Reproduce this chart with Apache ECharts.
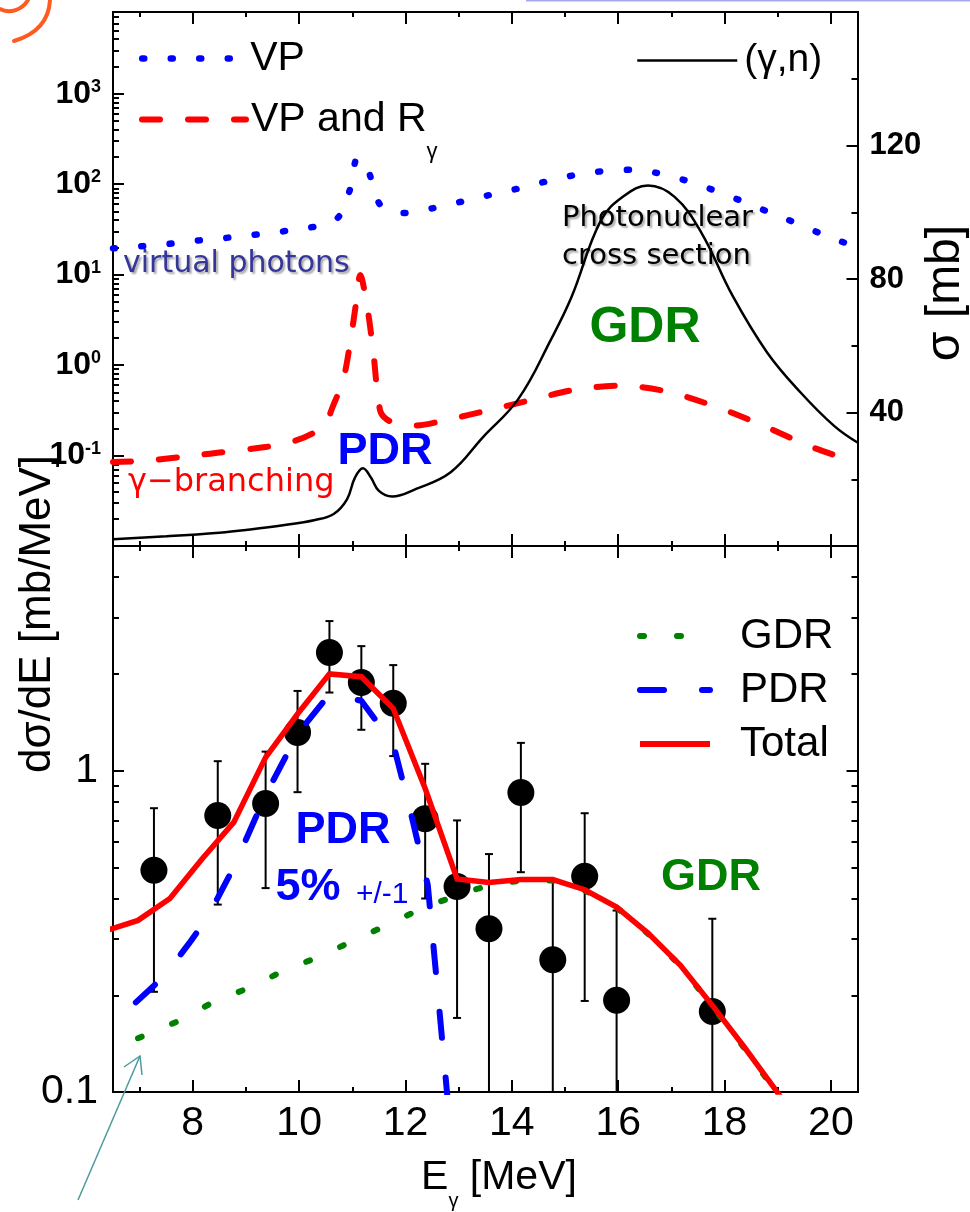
<!DOCTYPE html>
<html><head><meta charset="utf-8">
<script src="https://cdn.jsdelivr.net/npm/echarts@6/dist/echarts.min.js"></script>
<style>html,body{margin:0;padding:0;background:#fff}#c{width:970px;height:1212px}</style>
</head><body><div id="c"></div>
<script>
// ---------------- data ----------------
// shared energy axis (MeV)
const X_MIN = 6.5, X_MAX = 20.5;
const X_MAJOR = [8, 10, 12, 14, 16, 18, 20];
const X_MINOR = [7, 9, 11, 13, 15, 17, 19];

// top panel: virtual photon spectrum (VP)
const E_VP = [6.5,7.0,7.5,8.0,8.5,9.0,9.5,10.0,10.5,10.75,10.95,11.1,11.3,11.5,11.75,12.0,12.5,13.0,13.5,14.0,14.5,15.0,15.5,16.0,16.3,16.7,17.2,17.7,18.3,18.8,19.4,19.9,20.5];
const VP   = [19.5,20.5,21.7,23.5,25,27,29,32,36,44,85,195,140,62,49,48,54,63,74,86,102,120,135,143,144,134,113,90,66,50,36,27,20];

// top panel: VP and R_gamma
const E_VR = [6.5,7.15,8.15,8.5,9.4,9.9,10.27,10.5,10.64,10.83,10.96,11.06,11.15,11.28,11.39,11.52,11.65,11.9,12.2,12.8,13.5,14.4,15.2,16.05,16.9,17.9,18.75,19.6,20.5];
const VR   = [0.085,0.088,0.102,0.108,0.125,0.144,0.178,0.23,0.356,0.69,1.77,4.4,9.9,4.4,1.48,0.32,0.25,0.22,0.215,0.25,0.31,0.416,0.536,0.593,0.513,0.336,0.211,0.127,0.083];

// top panel: (gamma,n) photonuclear cross section, mb (right axis)
const E_GN = [6.5,7.5,8.5,9.0,9.7,10.3,10.65,10.9,11.05,11.2,11.35,11.5,11.75,12.2,12.85,13.45,14.12,14.74,15.12,15.68,16.12,16.56,17.06,17.56,18.15,18.8,19.43,20.06,20.5];
const GN   = [2.0,2.9,4.0,4.8,6.2,7.8,9.6,14,20.5,23.3,20.5,16.5,14.8,17.1,22.1,32.5,44,62,74.5,97.7,105,108,104.6,94,75,58,46,36,31];

// bottom panel: measured points with error bars (mb/MeV)
const E_D  = [7.27,8.47,9.37,9.97,10.57,11.17,11.77,12.37,12.97,13.57,14.17,14.77,15.37,15.97,17.77];
const D    = [0.49,0.725,0.79,1.315,2.33,1.88,1.62,0.708,0.436,0.322,0.855,0.258,0.469,0.193,0.178];
const D_LO = [0.205,0.383,0.431,0.857,1.75,1.34,1.11,0.40,0.17,0.05,0.483,0.05,0.192,0.05,0.05];
const D_HI = [0.764,1.07,1.146,1.77,2.92,2.44,2.13,1.05,0.70,0.55,1.22,0.46,0.737,0.367,0.346];

// bottom panel: GDR component
const E_G = [6.97,7.72,8.4,9.06,9.72,10.39,11.04,11.71,12.36,13.06,13.57,14.17,14.77,15.37,15.97,16.57,17.17,17.77,18.37,18.97,19.57];
const GDR = [0.147,0.166,0.191,0.211,0.239,0.264,0.297,0.334,0.376,0.414,0.44,0.455,0.455,0.424,0.375,0.31,0.247,0.185,0.137,0.1,0.072];

// bottom panel: PDR component
const E_P = [6.93,7.46,7.93,8.28,8.77,9.37,9.97,10.57,11.17,11.77,12.1,12.42,12.6,12.78,12.9];
const PDR = [0.19,0.229,0.29,0.35,0.50,0.84,1.30,1.73,1.65,1.21,0.74,0.44,0.21,0.1,0.065];

// bottom panel: total
const E_T = [6.37,6.97,7.57,8.17,8.77,9.37,9.97,10.57,11.17,11.77,12.37,12.97,13.57,14.17,14.77,15.37,15.97,16.57,17.17,17.77,18.37,18.97,19.57];
const TOT = [0.318,0.342,0.40,0.53,0.69,1.10,1.50,2.0,1.96,1.56,0.88,0.46,0.449,0.458,0.458,0.426,0.376,0.311,0.248,0.186,0.138,0.101,0.073];

// axis tick values
const TOP_LOG_MIN = 0.01, TOP_LOG_MAX = 8000;
const TOP_LOG_MAJOR = [0.01, 0.1, 1, 10, 100, 1000];
const TOP_LOG_LABELS = [0.1, 1, 10, 100, 1000];
const SIG_MAJOR = [0, 40, 80, 120, 160];
const SIG_MINOR = [20, 60, 100, 140];
const SIG_LABELS = [40, 80, 120];
const BOT_LOG_MIN = 0.1, BOT_LOG_MAX = 5;
const BOT_LOG_MAJOR = [0.1, 1];

// ---------------- helpers ----------------
function logMinor(lo, hi) {
  const out = [];
  for (let k = -3; k <= 4; k++) for (let m = 2; m <= 9; m++) {
    const v = m * Math.pow(10, k);
    if (v > lo * 1.0001 && v < hi * 0.9999) out.push(v);
  }
  return out;
}
const zip = (a, b) => a.map((x, i) => [x, b[i]]);
const FONT = '"Liberation Sans", Arial, sans-serif';
const DJ = '"DejaVu Sans", sans-serif';
const axLine = () => ({ show: true, onZero: false, lineStyle: { color: '#000', width: 2 } });
const tick = (vals, len) => ({ show: true, inside: true, length: len, customValues: vals, lineStyle: { color: '#000', width: 2 } });

function xa(grid, pos, vals, len, label) {
  return { type: 'value', gridIndex: grid, position: pos, min: X_MIN, max: X_MAX,
    axisLine: axLine(), axisTick: tick(vals, len), splitLine: { show: false },
    axisLabel: label || { show: false } };
}
function ya(grid, pos, type, min, max, vals, len, label) {
  return { type: type, gridIndex: grid, position: pos, min: min, max: max,
    axisLine: axLine(), axisTick: tick(vals, len), splitLine: { show: false }, minorTick: { show: false },
    axisLabel: label || { show: false } };
}

const xAxis = [
  xa(0, 'bottom', X_MAJOR, 12), xa(0, 'bottom', X_MINOR, 5),
  xa(0, 'top', X_MAJOR, 12), xa(0, 'top', X_MINOR, 5),
  xa(1, 'bottom', X_MAJOR, 12, { show: true, customValues: X_MAJOR, fontSize: 41, fontFamily: FONT, color: '#000', margin: 11 }),
  xa(1, 'bottom', X_MINOR, 5),
  xa(1, 'top', X_MAJOR, 12), xa(1, 'top', X_MINOR, 5)
];

const yAxis = [
  ya(0, 'left', 'log', TOP_LOG_MIN, TOP_LOG_MAX, TOP_LOG_MAJOR, 11, {
    show: true, customValues: TOP_LOG_LABELS, margin: 12, color: '#000',
    formatter: v => '{b|10}{s|' + Math.round(Math.log10(v)) + '}',
    rich: { b: { fontSize: 32, fontWeight: 'bold', fontFamily: FONT, color: '#000' },
            s: { fontSize: 18, fontWeight: 'bold', fontFamily: FONT, color: '#000', verticalAlign: 'top' } } }),
  ya(0, 'left', 'log', TOP_LOG_MIN, TOP_LOG_MAX, logMinor(TOP_LOG_MIN, TOP_LOG_MAX), 6),
  ya(0, 'right', 'value', 0, 160, SIG_MAJOR, 11, {
    show: true, customValues: SIG_LABELS, margin: 12, fontSize: 31, fontWeight: 'bold', fontFamily: FONT, color: '#000' }),
  ya(0, 'right', 'value', 0, 160, SIG_MINOR, 6),
  ya(1, 'left', 'log', BOT_LOG_MIN, BOT_LOG_MAX, BOT_LOG_MAJOR, 11, {
    show: true, customValues: BOT_LOG_MAJOR, margin: 15, fontSize: 41, fontFamily: FONT, color: '#000',
    formatter: v => (v >= 1 ? '1' : '0.1') }),
  ya(1, 'left', 'log', BOT_LOG_MIN, BOT_LOG_MAX, logMinor(BOT_LOG_MIN, BOT_LOG_MAX), 6),
  ya(1, 'right', 'log', BOT_LOG_MIN, BOT_LOG_MAX, BOT_LOG_MAJOR, 11),
  ya(1, 'right', 'log', BOT_LOG_MIN, BOT_LOG_MAX, logMinor(BOT_LOG_MIN, BOT_LOG_MAX), 6)
];

const lineBase = { type: 'line', showSymbol: false, symbol: 'none', clip: true, animation: false, silent: true };

const series = [
  Object.assign({}, lineBase, { name: 'VP', xAxisIndex: 0, yAxisIndex: 0, data: zip(E_VP, VP), smooth: 0.3,
    lineStyle: { color: '#0000ff', width: 6.5, type: [2, 26.5], cap: 'round' }, itemStyle: { color: '#0000ff' } }),
  Object.assign({}, lineBase, { name: 'VP and Rγ', xAxisIndex: 0, yAxisIndex: 0, data: zip(E_VR, VR), smooth: 0.3,
    lineStyle: { color: '#ff0000', width: 6, type: [18, 28], cap: 'round' }, itemStyle: { color: '#ff0000' } }),
  Object.assign({}, lineBase, { name: '(γ,n)', xAxisIndex: 0, yAxisIndex: 2, data: zip(E_GN, GN), smooth: 0.4,
    lineStyle: { color: '#000', width: 2.5 }, itemStyle: { color: '#000' } }),
  { type: 'custom', name: 'err', xAxisIndex: 4, yAxisIndex: 4, clip: true, silent: true, animation: false,
    data: E_D.map((e, i) => [e, D_LO[i], D_HI[i]]),
    encode: { x: 0, y: [1, 2] },
    renderItem: function (params, api) {
      const x = api.value(0);
      const p1 = api.coord([x, api.value(2)]), p2 = api.coord([x, api.value(1)]);
      const cw = 4, st = { stroke: '#000', lineWidth: 2 };
      return { type: 'group', children: [
        { type: 'line', shape: { x1: p1[0], y1: p1[1], x2: p2[0], y2: p2[1] }, style: st },
        { type: 'line', shape: { x1: p1[0] - cw, y1: p1[1], x2: p1[0] + cw, y2: p1[1] }, style: st },
        { type: 'line', shape: { x1: p2[0] - cw, y1: p2[1], x2: p2[0] + cw, y2: p2[1] }, style: st } ] };
    } },
  { type: 'scatter', name: 'data', xAxisIndex: 4, yAxisIndex: 4, data: zip(E_D, D), symbolSize: 27,
    itemStyle: { color: '#000', opacity: 1 }, animation: false, silent: true },
  Object.assign({}, lineBase, { name: 'GDR', xAxisIndex: 4, yAxisIndex: 4, data: zip(E_G, GDR),
    lineStyle: { color: '#008000', width: 6, type: [4, 33], cap: 'round' }, itemStyle: { color: '#008000' } }),
  Object.assign({}, lineBase, { name: 'PDR', xAxisIndex: 4, yAxisIndex: 4, data: zip(E_P, PDR),
    lineStyle: { color: '#0000ff', width: 6, type: [26, 40], cap: 'round' }, itemStyle: { color: '#0000ff' } }),
  Object.assign({}, lineBase, { name: 'Total', xAxisIndex: 4, yAxisIndex: 4, data: zip(E_T, TOT),
    lineStyle: { color: '#ff0000', width: 5.5, join: 'miter' }, itemStyle: { color: '#ff0000' } })
];

const legBase = { orient: 'vertical', selectedMode: false, itemGap: 0, itemHeight: 14, padding: 0,
  itemStyle: { opacity: 0 }, textStyle: { fontFamily: FONT, color: '#000', fontSize: 41 } };
const legend = [
  Object.assign({}, legBase, { left: 139, top: 38, itemWidth: 96,
    data: [{ name: 'VP', lineStyle: { width: 6.5, color: '#0000ff', type: [2, 26.5], cap: 'round' } }],
    textStyle: { fontFamily: FONT, color: '#000', fontSize: 41, padding: [10, 0, 0, 7] } }),
  Object.assign({}, legBase, { left: 139, top: 99, itemWidth: 104,
    data: [{ name: 'VP and Rγ', lineStyle: { width: 6, color: '#ff0000', type: [18, 28], cap: 'round' } }],
    formatter: n => n.replace('Rγ', 'R{sub|γ}'),
    textStyle: { fontFamily: FONT, color: '#000', fontSize: 41, padding: [0, 0, 0, 0],
      rich: { sub: { fontFamily: FONT, fontSize: 22, color: '#000', padding: [64, 0, 0, 0], verticalAlign: 'bottom' } } } }),
  Object.assign({}, legBase, { left: 636, top: 41, itemWidth: 100,
    data: [{ name: '(γ,n)', lineStyle: { width: 2.5, color: '#000' } }],
    textStyle: { fontFamily: FONT, color: '#000', fontSize: 39, padding: [0, 0, 0, 2] } }),
  Object.assign({}, legBase, { left: 637, top: 609, itemWidth: 70,
    data: [{ name: 'GDR', lineStyle: { width: 6, color: '#008000', type: [4, 33], cap: 'round' } },
           { name: 'PDR', lineStyle: { width: 6, color: '#0000ff', type: [24, 38], cap: 'round' } },
           { name: 'Total', lineStyle: { width: 6, color: '#ff0000' } }],
    textStyle: { fontFamily: FONT, color: '#000', fontSize: 42, lineHeight: 43, padding: [0, 0, 11, 25] } })
];

const shadow = { textShadowColor: 'rgba(0,0,0,0.35)', textShadowBlur: 2, textShadowOffsetX: 2, textShadowOffsetY: 2 };
function txt(x, y, text, st, extra) {
  return Object.assign({ type: 'text', x: x, y: y, z: 100, silent: true,
    style: Object.assign({ text: text, fontFamily: FONT, fill: '#000', align: 'left', verticalAlign: 'middle' }, st) }, extra || {});
}
const graphic = [
  txt(123, 264, 'virtual photons', Object.assign({ fontFamily: DJ, fontSize: 30, fill: '#36369a' }, shadow)),
  txt(128, 483, 'γ−branching', { fontFamily: DJ, fontSize: 32, fill: '#ff0000' }),
  txt(562, 237, 'Photonuclear\ncross section', Object.assign({ fontFamily: DJ, fontSize: 29, lineHeight: 38, fill: '#000' }, shadow)),
  txt(385, 452, 'PDR', { fontSize: 45, fontWeight: 'bold', fill: '#0000ff', align: 'center' }),
  txt(645, 328, 'GDR', { fontSize: 50, fontWeight: 'bold', fill: '#008000', align: 'center' }),
  txt(343, 831, 'PDR', { fontSize: 45, fontWeight: 'bold', fill: '#0000ff', align: 'center' }),
  txt(308, 888, '5%', { fontSize: 45, fontWeight: 'bold', fill: '#0000ff', align: 'center' }),
  txt(356, 895, '+/-1', { fontSize: 30, fill: '#0000ff' }),
  txt(711, 878, 'GDR', { fontSize: 45, fontWeight: 'bold', fill: '#008000', align: 'center' }),
  txt(499, 1178, 'E{sub|γ} [MeV]', { fontSize: 41, align: 'center',
    rich: { sub: { fontFamily: FONT, fontSize: 20, fill: '#000', padding: [47, 0, 0, 0], verticalAlign: 'bottom' } } }),
  txt(38, 614, 'dσ/dE [mb/MeV]', { fontSize: 44, align: 'center' }, { rotation: Math.PI / 2 }),
  txt(946, 293, 'σ [mb]', { fontSize: 48, align: 'center' }, { rotation: Math.PI / 2 }),
  { type: 'line', z: 100, silent: true, shape: { x1: 78, y1: 1200, x2: 140, y2: 1056 }, style: { stroke: '#4b9a9e', lineWidth: 1.5 } },
  { type: 'polyline', z: 100, silent: true, shape: { points: [[124, 1067], [140, 1056], [142, 1075]] }, style: { stroke: '#4b9a9e', lineWidth: 1.5, fill: null } },
  { type: 'line', z: 100, silent: true, shape: { x1: 526, y1: 0.5, x2: 970, y2: 0.5 }, style: { stroke: '#a9a9f0', lineWidth: 2 } },
  { type: 'bezierCurve', z: 100, silent: true, shape: { x1: 50, y1: 0, cpx1: 49, cpy1: 20, cpx2: 38, cpy2: 34, x2: 14, y2: 41 }, style: { stroke: '#ff5a1f', lineWidth: 4, fill: null, lineCap: 'round' } },
  { type: 'bezierCurve', z: 100, silent: true, shape: { x1: 0, y1: 9, cpx1: 10, cpy1: 14, cpx2: 22, cpy2: 10, x2: 28, y2: 0 }, style: { stroke: '#ff5a1f', lineWidth: 4, fill: null, lineCap: 'round' } }
];

const chart = echarts.init(document.getElementById('c'), null, { renderer: 'canvas' });
chart.setOption({
  backgroundColor: '#fff',
  animation: false,
  grid: [
    { left: 113, right: 112.5, top: 12, height: 534, containLabel: false, outerBoundsMode: 'none' },
    { left: 113, right: 112.5, top: 546, height: 546, containLabel: false, outerBoundsMode: 'none' }
  ],
  xAxis: xAxis,
  yAxis: yAxis,
  legend: legend,
  series: series,
  graphic: graphic
});
</script></body></html>
